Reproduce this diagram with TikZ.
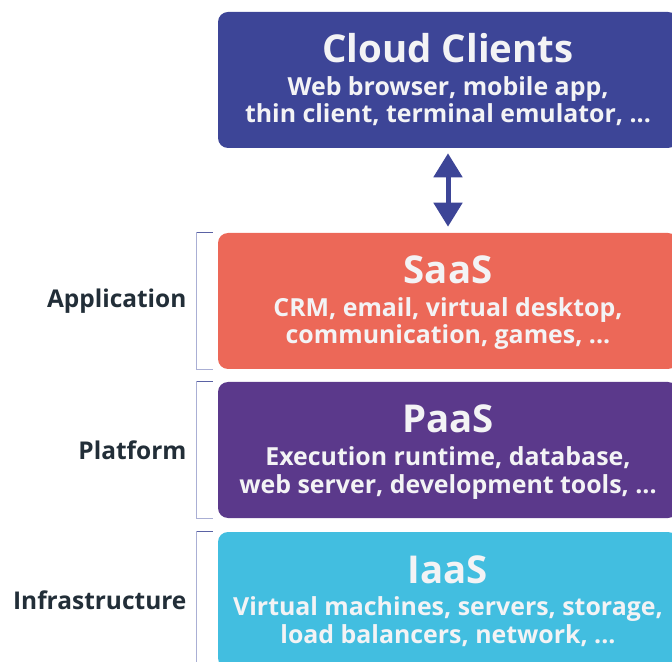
\documentclass[tikz,border=0pt]{standalone}
\usepackage{fontspec}
\setmainfont{Open Sans}
\usetikzlibrary{arrows.meta,positioning}
\definecolor{clientblue}{RGB}{61,69,151}
\definecolor{saascoral}{RGB}{236,104,88}
\definecolor{paaspurple}{RGB}{91,57,139}
\definecolor{iaascyan}{RGB}{66,190,224}
\definecolor{boxtext}{RGB}{243,243,245}
\definecolor{labeltext}{RGB}{34,46,56}
\definecolor{bracketlight}{RGB}{170,175,212}
\definecolor{bracketdark}{RGB}{90,98,164}

\begin{document}
\begin{tikzpicture}[
  layer/.style={rounded corners=0.25cm,minimum width=11.5cm,minimum height=3.4cm,inner sep=0pt},
  layertitle/.style={anchor=base,inner sep=0pt,text=boxtext,font=\fontsize{27.3}{30}\selectfont\bfseries},
  layertext/.style={anchor=base,inner sep=0pt,align=center,text=boxtext,font=\fontsize{17.7}{19.85}\selectfont\bfseries},
  sidelabel/.style={inner sep=0pt,text=labeltext,font=\fontsize{17.4}{20}\selectfont\bfseries},
  bracketline/.style={draw=bracketlight,line width=0.9pt},
  bracketcap/.style={draw=bracketdark,line width=0.9pt},
  doublearrow/.style={draw=clientblue,line width=0.125cm,
    {Triangle[width=0.7cm,length=0.6cm]}-{Triangle[width=0.7cm,length=0.6cm]}}]
\path[use as bounding box] (0,0) rectangle (16.8,-16.55);
\clip (0,0) rectangle (16.8,-16.55);

% service layers
\node[layer,fill=clientblue] (clients) at (11.2,-2.0) {};
\node[layer,fill=saascoral] (saas) at (11.2,-7.525) {};
\node[layer,fill=paaspurple] (paas) at (11.2,-11.25) {};
\node[layer,fill=iaascyan] (iaas) at (11.2,-15.0) {};

\node[layertitle] (clientstitle) at ([yshift=0.425cm]clients.center) {Cloud Clients};
\node[layertext] (clientstext) at ([yshift=-1.075cm]clients.center) {Web browser, mobile app,\\thin client, terminal emulator, ...};
\node[layertitle] (saastitle) at ([yshift=0.425cm]saas.center) {SaaS};
\node[layertext] (saastext) at ([yshift=-1.075cm]saas.center) {CRM, email, virtual desktop,\\communication, games, ...};
\node[layertitle] (paastitle) at ([yshift=0.425cm]paas.center) {PaaS};
\node[layertext] (paastext) at ([yshift=-1.075cm]paas.center) {Execution runtime, database,\\web server, development tools, ...};
\node[layertitle] (iaastitle) at ([yshift=0.425cm]iaas.center) {IaaS};
\node[layertext] (iaastext) at ([yshift=-1.075cm]iaas.center) {Virtual machines, servers, storage,\\load balancers, network, ...};

\draw[doublearrow,shorten <=0.125cm,shorten >=0.15cm] (clients) -- (saas);

% brackets and side labels
\draw[bracketline] ([xshift=-0.125cm]saas.north west) -| ([xshift=-0.525cm]saas.south west) -- ([xshift=-0.125cm]saas.south west);
\draw[bracketcap] ([xshift=-0.125cm]saas.north west) -- ([xshift=-0.525cm]saas.north west);
\draw[bracketline] ([xshift=-0.125cm]paas.north west) -| ([xshift=-0.525cm]paas.south west) -- ([xshift=-0.125cm]paas.south west);
\draw[bracketcap] ([xshift=-0.125cm]paas.north west) -- ([xshift=-0.525cm]paas.north west);
\draw[bracketline] ([xshift=-0.125cm]iaas.north west) -| ([xshift=-0.525cm]iaas.south west) -- ([xshift=-0.125cm]iaas.south west);
\draw[bracketcap] ([xshift=-0.125cm]iaas.north west) -- ([xshift=-0.525cm]iaas.north west);

\node[sidelabel,left=0.775cm of saas] (application) {Application};
\node[sidelabel,left=0.775cm of paas] (platform) {Platform};
\node[sidelabel,left=0.775cm of iaas] (infrastructure) {Infrastructure};
\end{tikzpicture}
\end{document}
